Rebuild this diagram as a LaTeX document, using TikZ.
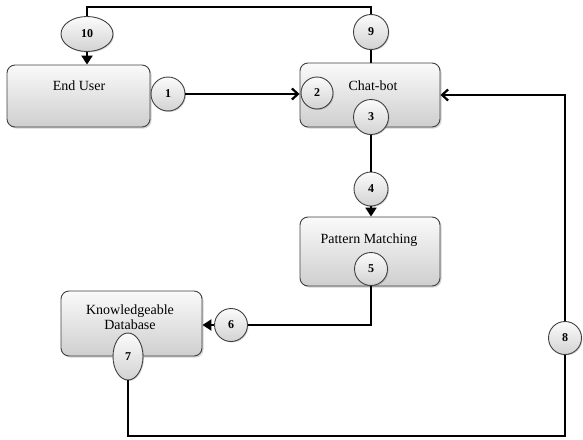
\documentclass[tikz,border=0pt]{standalone}
\usepackage{fontspec}
\setmainfont{Liberation Serif}
\usetikzlibrary{arrows.meta,shadows,shapes.geometric}

\tikzset{
  stage/.style={draw=black!75, line width=0.9pt, rounded corners=8pt,
    top color=gray!4, bottom color=gray!38,
    drop shadow={opacity=0.35, shadow xshift=1.5pt, shadow yshift=-1.5pt},
    inner sep=0pt},
  stagetext/.style={font=\fontsize{14}{15}\selectfont, align=center, inner sep=0pt},
  badge/.style={circle, draw=black!75, line width=0.9pt,
    top color=gray!3, bottom color=gray!35,
    drop shadow={opacity=0.35, shadow xshift=1pt, shadow yshift=-1pt},
    inner sep=0pt, font=\fontsize{12}{12}\bfseries\selectfont},
  oval/.style={ellipse, draw=black!75, line width=0.9pt,
    top color=gray!3, bottom color=gray!35,
    drop shadow={opacity=0.35, shadow xshift=1pt, shadow yshift=-1pt},
    inner sep=0pt, font=\fontsize{12}{12}\bfseries\selectfont},
  flow/.style={line width=2.7pt, black},
  barb/.style={flow, -{Straight Barb[length=6pt,width=11pt,line width=2.2pt]}},
  tip/.style={flow, -{Triangle[length=9pt,width=11pt]}},
}

\begin{document}
\begin{tikzpicture}[x=1pt, y=-1pt]
  \useasboundingbox (0,0) rectangle (583,439);

  % process boxes
  \node[stage, minimum width=143pt, minimum height=62pt] (user) at (78.5,96) {};
  \node[stage, minimum width=140pt, minimum height=64pt] (bot) at (370,95) {};
  \node[stage, minimum width=140pt, minimum height=69pt] (pat) at (370,251.5) {};
  \node[stage, minimum width=141pt, minimum height=65pt] (kb) at (131.5,323.5) {};

  \node[stagetext] (tuser) at (79,86) {End User};
  \node[stagetext] (tbot) at (373,86) {Chat-bot};
  \node[stagetext] (tpat) at (369,240) {Pattern Matching};
  \node[stagetext] (tkb) at (130,317) {Knowledgeable\\Database};

  % route coordinates
  \coordinate (top) at (0,7);
  \coordinate (low) at (0,436);
  \coordinate (mid) at (0,325);

  % numbered markers
  \node[oval, minimum width=52pt, minimum height=35pt] (c10) at (87,34) {10};
  \node[badge, minimum size=35pt] (c9) at (371,32) {9};
  \node[badge, minimum size=34pt] (c1) at (168,94) {1};
  \node[badge, minimum size=32pt] (c2) at (317,93) {2};
  \node[badge, minimum size=35pt] (c3) at (371,117) {3};
  \node[badge, minimum size=34pt] (c4) at (371,189) {4};
  \node[badge, minimum size=33pt] (c5) at (371,269) {5};
  \node[badge, minimum size=33pt] (c6) at (231,325) {6};
  \node[oval, minimum width=30pt, minimum height=47pt] (c7) at (128,356.5) {7};
  \node[badge, minimum size=33pt] (c8) at (565,338) {8};

  % connectors
  \draw[flow] (c9.south) -- (c9.south |- bot.north);
  \draw[flow] (c9.north) -- (c9.north |- top) -| (c10.north);
  \draw[tip] (c10.south) -- (c10.south |- user.north);
  \draw[barb] (c1.east) -- (c1.east -| bot.west);
  \draw[flow] (c3.south) -- (c4.north);
  \draw[tip] (c4.south) -- (c4.south |- pat.north);
  \draw[flow] (c5.south) -- (c5.south |- mid) -- (c6.east);
  \draw[tip] (c6.west) -- (c6.west -| kb.east);
  \draw[flow] (c7.south) -- (c7.south |- low) -| (c8.south);
  \draw[barb] (c8.north) |- (bot.east);
\end{tikzpicture}
\end{document}
